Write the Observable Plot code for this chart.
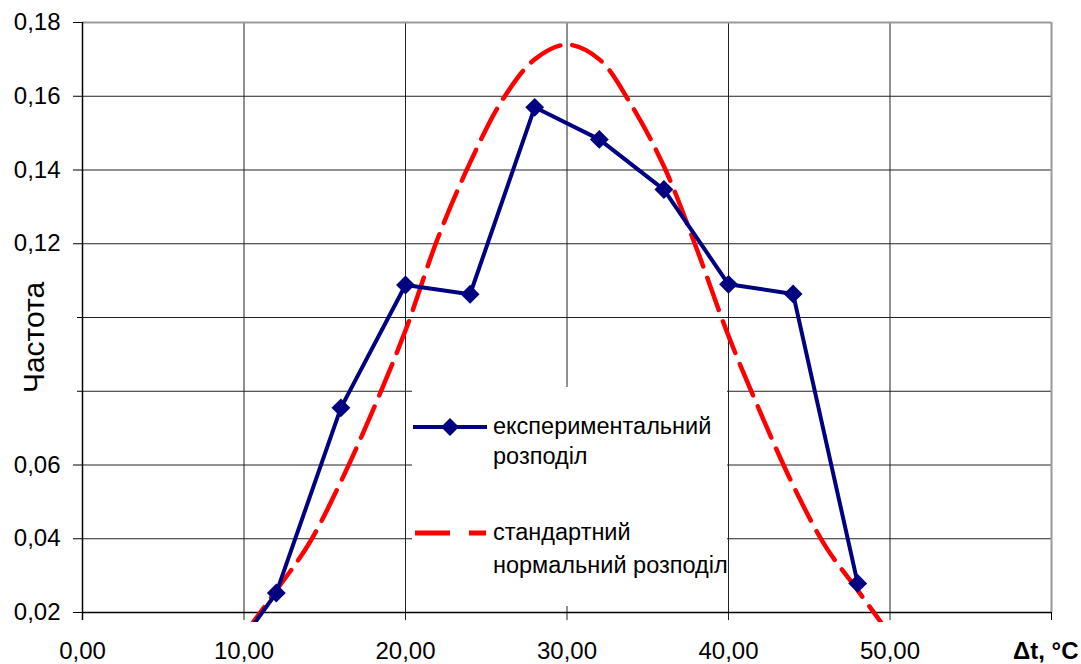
<!DOCTYPE html>
<html>
<head>
<meta charset="utf-8">
<script src="https://cdn.jsdelivr.net/npm/d3@7"></script>
<script src="https://cdn.jsdelivr.net/npm/@observablehq/plot@0.6"></script>
<style>
  html, body { margin: 0; padding: 0; background: #fff; }
  #wrap { position: relative; width: 1081px; height: 664px; font-family: "Liberation Sans", Arial, sans-serif; }
  #legend { position: absolute; left: 412px; top: 387px; width: 315px; height: 219px; background: #fff; }
  .sw { position: absolute; left: 0; }
  .lbl { position: absolute; left: 81px; font-size: 23.5px; color: #000; white-space: nowrap; }
</style>
</head>
<body>
<div id="wrap"></div>
<script>
// ---- data ----
const expX = [8, 12, 16, 20, 24, 28, 32, 36, 40, 44, 48];
const expY = [0.001, 0.0253, 0.0755, 0.1088, 0.1063, 0.157, 0.1483, 0.1347, 0.109, 0.1064, 0.0279];

const normX = [10, 12, 14, 16, 18, 20, 22, 24, 26, 28, 30, 32, 34, 36, 38, 40, 42, 44, 46, 48, 50];
const normY = [0.014, 0.026, 0.0385, 0.0555, 0.075, 0.0965, 0.1215, 0.142, 0.159, 0.170, 0.174,
               0.170, 0.1575, 0.141, 0.119, 0.095, 0.074, 0.0545, 0.038, 0.026, 0.014];

const xTicks = [0, 10, 20, 30, 40, 50];
const xFrameEnd = 60;
const yLabeledTicks = [0.02, 0.04, 0.06, 0.12, 0.14, 0.16, 0.18];
const yUnlabeledTicks = [0.08, 0.10];
const yAllTicks = [0.02, 0.04, 0.06, 0.08, 0.10, 0.12, 0.14, 0.16, 0.18];
const yMin = 0.02, yMax = 0.18, yTickEnd = 0.0178, yDomainMin = 0.01729;

const seriesNames = [["експериментальний", "розподіл"], ["стандартний", "нормальний розподіл"]];
const yTitle = "Частота";
const xTitle = "Δt, °C";

const expData = expX.map((x, i) => ({x, y: expY[i]}));
const normData = normX.map((x, i) => ({x, y: normY[i]}));
const fmt = d => d.toFixed(2).replace(".", ",");

const chart = Plot.plot({
  width: 1081,
  height: 664,
  marginLeft: 82,
  marginRight: 30,
  marginTop: 22,
  marginBottom: 42,
  x: {domain: [0, xFrameEnd]},
  y: {domain: [yDomainMin, yMax]},
  style: {fontFamily: "Liberation Sans, Arial, sans-serif", fontSize: "24px", background: "#fff"},
  marks: [
    Plot.ruleY(yAllTicks.filter(d => d !== yMax && d !== yMin), {x1: 0, x2: xFrameEnd, stroke: "#222", strokeWidth: 1}),
    Plot.ruleX(xTicks.filter(d => d !== 0), {y1: yMax, y2: yTickEnd, stroke: "#222", strokeWidth: 1}),
    Plot.ruleY([yMax], {x1: 0, x2: xFrameEnd, stroke: "#999", strokeWidth: 2}),
    Plot.ruleX([xFrameEnd], {y1: yMax, y2: yMin, stroke: "#999", strokeWidth: 2}),
    Plot.ruleX([xFrameEnd], {y1: yMin, y2: yTickEnd, stroke: "#000", strokeWidth: 1}),
    Plot.ruleY([yMin], {x1: 0, x2: xFrameEnd, stroke: "#000", strokeWidth: 1.5}),
    Plot.ruleX([0], {y1: yMax, y2: yTickEnd, stroke: "#000", strokeWidth: 1.5}),
    Plot.axisY(yLabeledTicks, {anchor: "left", tickSize: 9, tickPadding: 13, tickFormat: fmt, label: null, stroke: "#000", fontSize: 24}),
    Plot.axisY(yUnlabeledTicks, {anchor: "left", tickSize: 5, tickFormat: () => "", label: null, stroke: "#000"}),
    Plot.axisX(xTicks, {anchor: "bottom", tickSize: 0, tickPadding: 19, tickFormat: fmt, label: null, fontSize: 24}),
    Plot.line(normData, {x: "x", y: "y", curve: "catmull-rom", stroke: "#ff0000", strokeWidth: 4.5, strokeDasharray: "34,12", clip: true}),
    Plot.line(expData, {x: "x", y: "y", stroke: "#000080", strokeWidth: 4, clip: true}),
    Plot.dot(expData.filter(d => d.y >= yMin), {x: "x", y: "y", symbol: "diamond2", r: 8.5, fill: "#000080", stroke: "none", clip: true}),
    Plot.text([yTitle], {frameAnchor: "left", dx: -48, dy: 15, rotate: -90, textAnchor: "middle", fontSize: 30, fill: "#000"}),
    Plot.text([xTitle], {frameAnchor: "bottom-right", dx: 27, dy: 29, textAnchor: "end", lineAnchor: "middle", fontWeight: "bold", fontSize: 24, fill: "#000"})
  ]
});
document.getElementById("wrap").appendChild(chart);

// legend
const legend = document.createElement("div");
legend.id = "legend";
legend.innerHTML = `
  <svg class="sw" style="top:25px" width="78" height="30"><line x1="1" y1="15" x2="75" y2="15" stroke="#000080" stroke-width="4"/>
    <path d="M38,6 L47,15 L38,24 L29,15 Z" fill="#000080"/></svg>
  <div class="lbl" style="top:26px">${seriesNames[0][0]}</div>
  <div class="lbl" style="top:56px">${seriesNames[0][1]}</div>
  <svg class="sw" style="top:131px" width="78" height="30"><line x1="3" y1="15" x2="74" y2="15" stroke="#ff0000" stroke-width="5" stroke-dasharray="35,19"/></svg>
  <div class="lbl" style="top:132px">${seriesNames[1][0]}</div>
  <div class="lbl" style="top:165px">${seriesNames[1][1]}</div>`;
document.getElementById("wrap").appendChild(legend);
</script>
</body>
</html>
